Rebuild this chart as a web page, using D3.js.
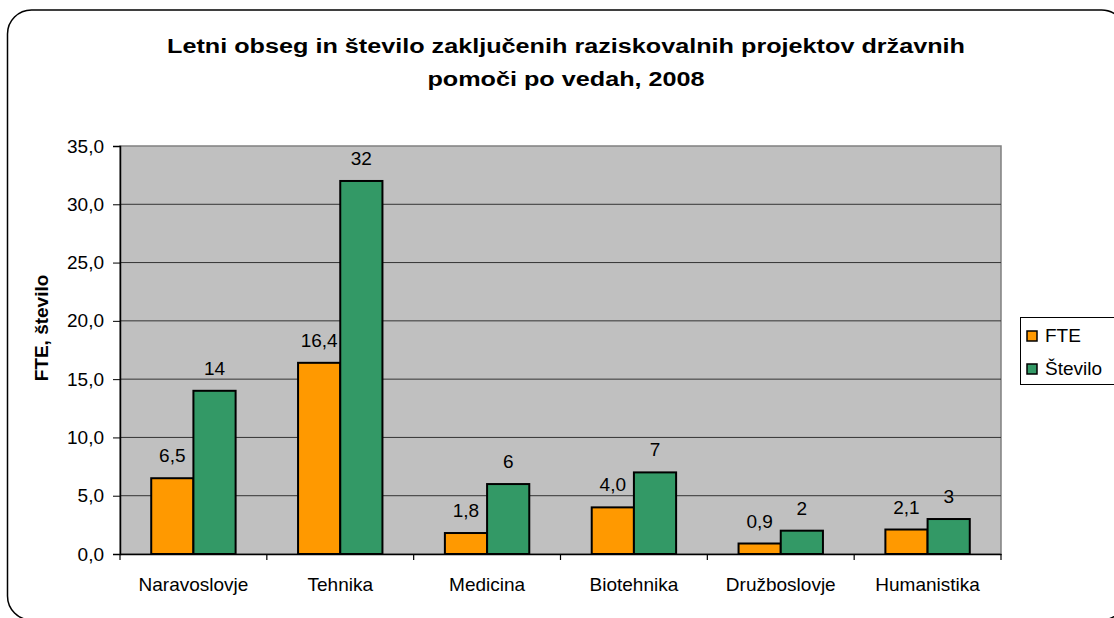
<!DOCTYPE html>
<html>
<head>
<meta charset="utf-8">
<script src="https://cdn.jsdelivr.net/npm/d3@7"></script>
<style>
  body { margin: 0; background: #fff; }
  svg text { font-family: "Liberation Sans", Arial, sans-serif; fill: #000; }
</style>
</head>
<body>
<div id="chart"></div>
<script>
'use strict';

var CATEGORIES = ['Naravoslovje', 'Tehnika', 'Medicina', 'Biotehnika', 'Družboslovje', 'Humanistika'];
var SERIES = ['FTE', 'Število'];
var FTE_VALUES = [6.5, 16.4, 1.8, 4.0, 0.9, 2.1];
var STEVILO_VALUES = [14, 32, 6, 7, 2, 3];
var Y_TICKS = [0, 5, 10, 15, 20, 25, 30, 35];
var TITLE_LINES = ['Letni obseg in število zaključenih raziskovalnih projektov državnih', 'pomoči po vedah, 2008'];
var Y_LABEL = 'FTE, število';

var SERIES_COLOR = ['#FF9900', '#339966'];

var WIDTH = 1114, HEIGHT = 618;
var PLOT = { left: 120, right: 1001, top: 146, bottom: 554 };
var FONT_SIZE = '19px';

var svg = d3.select('#chart').append('svg')
  .attr('width', WIDTH)
  .attr('height', HEIGHT);

// outer rounded frame
svg.append('rect')
  .attr('x', 7.5).attr('y', 10)
  .attr('width', 1118).attr('height', 610)
  .attr('rx', 24).attr('ry', 24)
  .style('fill', '#fff')
  .style('stroke', '#000')
  .style('stroke-width', 1.5);

// title (the original is drawn wider than the plain font)
svg.append('g')
  .attr('transform', 'translate(566,0) scale(1.2,1)')
  .append('text')
  .attr('x', 0).attr('y', 53)
  .style('font-size', '21px').style('font-weight', 'bold')
  .attr('text-anchor', 'middle')
  .selectAll('tspan')
  .data(TITLE_LINES)
  .enter()
  .append('tspan')
  .attr('x', 0)
  .attr('dy', function(d, i) { return i == 0 ? 0 : 33; })
  .text(function(d) { return d; });

var x0 = d3.scaleBand()
  .domain(CATEGORIES)
  .range([PLOT.left, PLOT.right]);

var x1 = d3.scaleBand()
  .domain(SERIES)
  .range([0, x0.bandwidth()])
  .paddingOuter(0.74)
  .paddingInner(0);

var y = d3.scaleLinear()
  .domain([0, 35])
  .range([PLOT.bottom, PLOT.top]);

// plot area background
svg.append('rect')
  .attr('x', PLOT.left).attr('y', PLOT.top)
  .attr('width', PLOT.right - PLOT.left)
  .attr('height', PLOT.bottom - PLOT.top)
  .style('fill', '#C0C0C0')
  .style('stroke', '#808080')
  .style('stroke-width', 1.5);

// gridlines
svg.append('g')
  .selectAll('line')
  .data(Y_TICKS.slice(1, -1))
  .enter()
  .append('line')
  .attr('x1', PLOT.left).attr('x2', PLOT.right)
  .attr('y1', function(d) { return y(d); })
  .attr('y2', function(d) { return y(d); })
  .style('stroke', '#333')
  .style('stroke-width', 1);

// bars
var rows = CATEGORIES.map(function(c, i) {
  return { cat: c, values: [FTE_VALUES[i], STEVILO_VALUES[i]] };
});

function barData(d) {
  return d.values.map(function(v, j) { return { s: SERIES[j], v: v, j: j }; });
}

var groups = svg.append('g')
  .selectAll('g')
  .data(rows)
  .enter()
  .append('g')
  .attr('transform', function(d) { return 'translate(' + x0(d.cat) + ',0)'; });

groups.selectAll('rect')
  .data(barData)
  .enter()
  .append('rect')
  .attr('x', function(d) { return x1(d.s); })
  .attr('y', function(d) { return y(d.v); })
  .attr('width', x1.bandwidth())
  .attr('height', function(d) { return y(0) - y(d.v); })
  .style('fill', function(d) { return SERIES_COLOR[d.j]; })
  .style('stroke', '#000')
  .style('stroke-width', 2);

groups.selectAll('text')
  .data(barData)
  .enter()
  .append('text')
  .attr('x', function(d) { return x1(d.s) + x1.bandwidth() / 2; })
  .attr('y', function(d) { return y(d.v) - 16; })
  .attr('text-anchor', 'middle')
  .style('font-size', FONT_SIZE)
  .text(function(d) { return d.j == 0 ? d3.format('.1f')(d.v).replace('.', ',') : d.v; });

// y axis
var yAxis = svg.append('g')
  .attr('transform', 'translate(' + PLOT.left + ',0)')
  .call(d3.axisLeft(y)
    .tickValues(Y_TICKS)
    .tickSize(7)
    .tickPadding(9)
    .tickFormat(function(d) { return d3.format('.1f')(d).replace('.', ','); }));
yAxis.select('.domain').style('stroke', '#000').style('stroke-width', 1.5);
yAxis.selectAll('.tick line').style('stroke', '#000');
yAxis.selectAll('.tick text')
  .style('font-size', FONT_SIZE)
  .style('font-family', '"Liberation Sans", Arial, sans-serif')
  .attr('fill', '#000');

// x axis
var xAxis = svg.append('g')
  .attr('transform', 'translate(0,' + PLOT.bottom + ')')
  .call(d3.axisBottom(x0).tickSize(0).tickPadding(24));
xAxis.select('.domain').style('stroke', '#000').style('stroke-width', 1.5);
xAxis.selectAll('.tick text')
  .style('font-size', FONT_SIZE)
  .style('font-family', '"Liberation Sans", Arial, sans-serif')
  .attr('fill', '#000');

// category boundary ticks
svg.append('g')
  .selectAll('line')
  .data(CATEGORIES.concat(['end']))
  .enter()
  .append('line')
  .attr('x1', function(d, i) { return PLOT.left + i * x0.step(); })
  .attr('x2', function(d, i) { return PLOT.left + i * x0.step(); })
  .attr('y1', PLOT.bottom)
  .attr('y2', PLOT.bottom + 6)
  .style('stroke', '#000')
  .style('stroke-width', 1.2);

// y axis title
svg.append('text')
  .attr('transform', 'translate(48,328) rotate(-90)')
  .attr('text-anchor', 'middle')
  .style('font-size', '19px').style('font-weight', 'bold')
  .text(Y_LABEL);

// legend
var legend = svg.append('g');
legend.append('rect')
  .attr('x', 1020.5).attr('y', 317.5)
  .attr('width', 110).attr('height', 67)
  .style('fill', '#fff')
  .style('stroke', '#000')
  .style('stroke-width', 1);

var items = legend.selectAll('g')
  .data(SERIES)
  .enter()
  .append('g')
  .attr('transform', function(d, i) { return 'translate(1027,' + (331 + i * 33) + ')'; });
items.append('rect')
  .attr('width', 10).attr('height', 10)
  .style('fill', function(d, i) { return SERIES_COLOR[i]; })
  .style('stroke', '#000')
  .style('stroke-width', 1.5);
items.append('text')
  .attr('x', 18).attr('y', 11)
  .style('font-size', FONT_SIZE)
  .text(function(d) { return d; });
</script>
</body>
</html>
